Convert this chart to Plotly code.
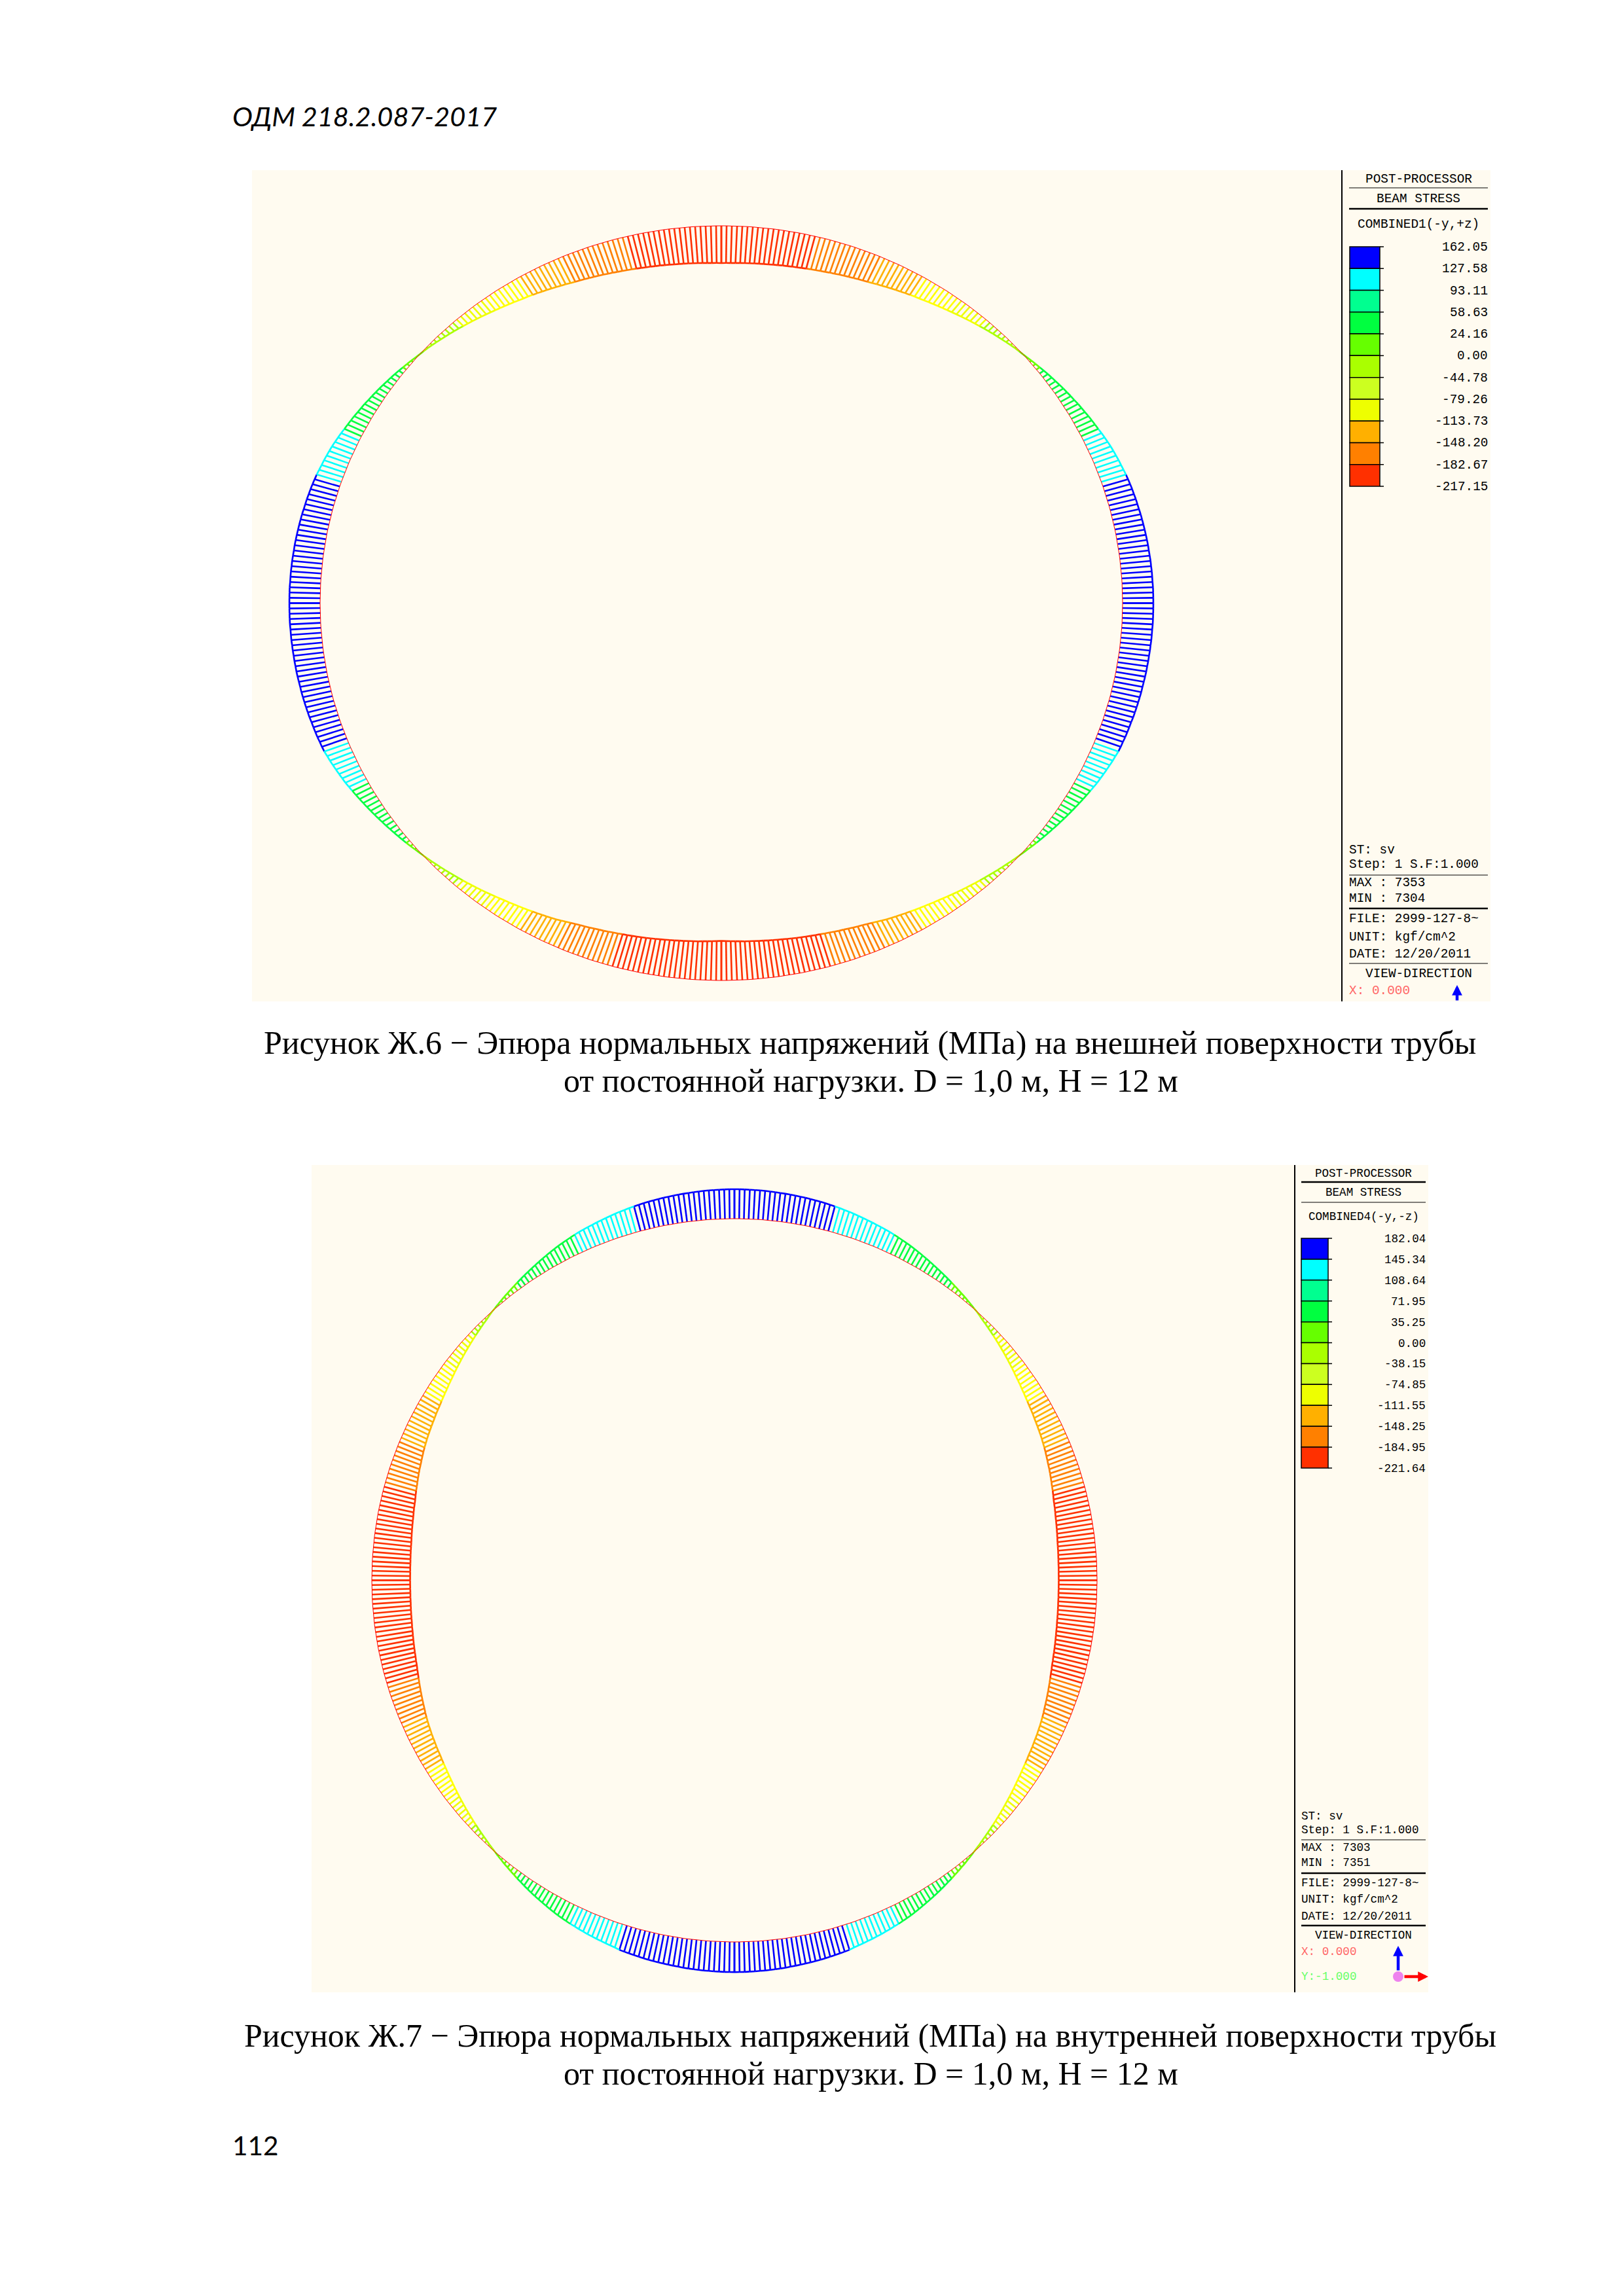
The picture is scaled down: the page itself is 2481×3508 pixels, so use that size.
import numpy as np
import plotly.graph_objects as go

W, H = 2481, 3508
PANEL_BG = "#FFFBF0"

# Stress, from the horizontal of the pipe (first value)
# to the top / bottom of the pipe (last value), evenly spaced along the quadrant.
stress_fig6_upper = [149,149,149,149,148,148,148,147,147,146,145,145,144,143,142,141,140,139,137,136,135,133,132,130,128,126,123,120,118,115,112,109,105,101,97,92,88,84,80,75,71,67,62,58,53,49,44,39,35,30,25,20,15,10,5,0,-4,-8,-13,-18,-23,-28,-33,-38,-43,-48,-53,-58,-63,-68,-73,-78,-83,-88,-92,-97,-101,-106,-110,-113,-117,-121,-125,-129,-133,-137,-141,-144,-148,-151,-154,-157,-160,-162,-165,-167,-170,-172,-175,-177,-179,-181,-183,-185,-187,-188,-190,-191,-193,-194,-196,-197,-198,-199,-200,-201,-202,-203,-204,-204,-205]
stress_fig6_lower = [149,149,149,149,149,148,148,148,147,147,146,146,145,145,144,143,142,142,141,140,139,138,137,135,134,133,132,130,129,127,123,120,116,112,108,104,100,95,90,85,80,75,70,65,60,55,50,45,40,35,30,25,20,15,9,4,-1,-6,-11,-16,-21,-26,-31,-36,-41,-46,-51,-56,-61,-66,-71,-76,-81,-86,-91,-95,-100,-104,-108,-112,-116,-120,-124,-128,-132,-136,-141,-146,-150,-154,-158,-161,-164,-167,-170,-172,-175,-178,-180,-183,-185,-187,-189,-191,-193,-195,-197,-199,-201,-203,-204,-206,-207,-209,-210,-211,-213,-214,-215,-216,-217]
stress_fig7_upper = [-221,-221,-221,-220,-220,-219,-218,-217,-216,-215,-213,-211,-209,-207,-205,-203,-200,-197,-195,-192,-188,-184,-181,-177,-173,-169,-165,-162,-158,-154,-150,-146,-143,-139,-136,-133,-130,-127,-124,-120,-117,-114,-110,-106,-102,-98,-93,-89,-84,-79,-74,-69,-64,-59,-54,-49,-44,-39,-34,-29,-24,-19,-14,-8,-2,3,8,13,18,23,28,33,38,43,48,53,58,63,68,73,78,83,88,93,97,101,105,109,113,116,119,122,125,128,131,134,137,140,142,145,147,149,151,153,155,156,158,159,161,162,163,164,165,166,167,168,168,169,169,170,170]
stress_fig7_lower = [-221,-221,-221,-221,-220,-220,-219,-218,-217,-216,-215,-213,-212,-210,-208,-206,-204,-202,-200,-197,-195,-191,-188,-184,-180,-176,-172,-168,-164,-160,-156,-151,-147,-143,-139,-136,-132,-129,-126,-122,-119,-116,-112,-108,-104,-100,-95,-91,-86,-81,-76,-71,-66,-61,-56,-51,-46,-41,-36,-31,-26,-21,-16,-10,-5,1,7,12,18,23,29,34,40,45,51,56,62,67,72,77,82,87,92,97,101,105,109,112,116,119,123,126,129,132,135,138,141,146,148,150,152,154,156,158,159,161,162,164,165,166,168,169,170,171,172,172,173,173,174,174,174]

legend_labels_fig6 = ["162.05","127.58","93.11","58.63","24.16","0.00","-44.78","-79.26","-113.73","-148.20","-182.67","-217.15"]
legend_labels_fig7 = ["182.04","145.34","108.64","71.95","35.25","0.00","-38.15","-74.85","-111.55","-148.25","-184.95","-221.64"]
swatch_colors = ["#0000FF","#00FFFF","#00FF90","#00FF40","#66FF00","#AAFF00","#CCFF20","#EEFF00","#FFB000","#FF8000","#FF3000"]
band_colors = ["#0000FF","#00FFFF","#00FF40","#00FF40","#66FF00","#AAFF00","#EEFF00","#FFFF00","#FFB000","#FF8000","#FF3000"]

caption_fig6 = ["Рисунок Ж.6 − Эпюра нормальных напряжений (МПа) на внешней поверхности трубы",
                "от постоянной нагрузки. D = 1,0 м, H = 12 м"]
caption_fig7 = ["Рисунок Ж.7 − Эпюра нормальных напряжений (МПа) на внутренней поверхности трубы",
                "от постоянной нагрузки. D = 1,0 м, H = 12 м"]

fig6 = dict(name="", panel=(385, 2277, 260, 1530), divider=2050, centre=(1102, 921.5), semi=(613, 576.5), k=(0.315, 0.278),
            upper=stress_fig6_upper, lower=stress_fig6_lower, labels=legend_labels_fig6,
            box=(2062, 2108, 2114, 377, 743), right=2275, left=2061, mid=2167, font=19.4,
            head=[("POST-PROCESSOR", 274), ("BEAM STRESS", 304), ("COMBINED1(-y,+z)", 343)],
            rules=[(287, 1), (319, 2.5), (1337, 1), (1388, 2.5), (1472, 1)],
            foot=[("ST: sv", 1299), ("Step: 1 S.F:1.000", 1321), ("MAX : 7353", 1349), ("MIN : 7304", 1373),
                  ("FILE: 2999-127-8~", 1404), ("UNIT: kgf/cm^2", 1432), ("DATE: 12/20/2011", 1458)],
            view=("VIEW-DIRECTION", 1488), coords=[("X: 0.000", 1514, "#FF6666")])
fig7 = dict(name="2", panel=(476, 2182, 1780, 3044), divider=1978, centre=(1122, 2414.5), semi=(554, 552.5), k=(0.265, 0.265),
            upper=stress_fig7_upper, lower=stress_fig7_lower, labels=legend_labels_fig7,
            box=(1988, 2029, 2035, 1892, 2243), right=2180, left=1988, mid=2083, font=17.6,
            head=[("POST-PROCESSOR", 1793), ("BEAM STRESS", 1822), ("COMBINED4(-y,-z)", 1859)],
            rules=[(1806, 2.5), (1837, 1), (2811, 1), (2862, 2.5), (2942, 2.5)],
            foot=[("ST: sv", 2775), ("Step: 1 S.F:1.000", 2796), ("MAX : 7303", 2823), ("MIN : 7351", 2846),
                  ("FILE: 2999-127-8~", 2877), ("UNIT: kgf/cm^2", 2902), ("DATE: 12/20/2011", 2928)],
            view=("VIEW-DIRECTION", 2957), coords=[("X: 0.000", 2982, "#FF6666"), ("Y:-1.000", 3020, "#66FF66")])

fx = lambda x: x / W
fy = lambda y: 1 - y / H

fig = go.Figure()
shapes, annos = [], []


def label(text, x, y, size, anchor="center", color="#000000", family="Liberation Mono", italic=False):
    annos.append(dict(text=text, x=fx(x), y=fy(y), xref="paper", yref="paper", showarrow=False,
                      xanchor=anchor, yanchor="middle", align=anchor,
                      font=dict(family=family, size=size, color=color, style="italic" if italic else "normal")))


def rule(x0, x1, y0, y1, width=1, color="#000000"):
    shapes.append(dict(type="line", xref="paper", yref="paper", x0=fx(x0), x1=fx(x1), y0=fy(y0), y1=fy(y1),
                       line=dict(color=color, width=width)))


def draw(spec):
    ax = spec["name"]
    xa, ya = "x" + ax, "y" + ax
    left, right, top, bottom = spec["panel"]
    cx, cy = spec["centre"]
    a, b = spec["semi"]
    kx, ky = spec["k"]
    fig.layout["xaxis" + ax] = dict(domain=[fx(left), fx(right)], range=[left - cx, right - cx], visible=False,
                                    fixedrange=True, anchor=ya)
    fig.layout["yaxis" + ax] = dict(domain=[fy(bottom), fy(top)], range=[cy - bottom, cy - top], visible=False,
                                    fixedrange=True, anchor=xa)

    edges = [float(v) for v in spec["labels"]]
    segs = {c: ([], []) for c in band_colors}
    ring_x, ring_y = [], []
    quadrants = [(spec["upper"], -1, 1), (spec["upper"], 1, 1), (spec["lower"], 1, -1), (spec["lower"], -1, -1)]
    for values, sx, sy in quadrants:
        s = np.array(values, float)
        t = np.radians(np.linspace(0, 90, len(s)))
        bx, by = sx * a * np.cos(t), sy * b * np.sin(t)
        ex = bx + sx * kx * s * np.cos(t)
        ey = by + sy * ky * s * np.sin(t)
        for i, v in enumerate(s):
            j = next((n for n in range(11) if v >= edges[n + 1]), 10)
            xs, ys = segs[band_colors[j]]
            xs += [bx[i], ex[i], None]
            ys += [by[i], ey[i], None]
            if i + 1 < len(s):
                xs += [ex[i], ex[i + 1], None]
                ys += [ey[i], ey[i + 1], None]
        ring_x += list(bx) + [None]
        ring_y += list(by) + [None]
    for color, (xs, ys) in segs.items():
        if xs:
            fig.add_trace(go.Scatter(x=xs, y=ys, mode="lines", xaxis=xa, yaxis=ya, hoverinfo="skip", showlegend=False,
                                     line=dict(color=color, width=2.6)))
    fig.add_trace(go.Scatter(x=ring_x, y=ring_y, mode="lines", xaxis=xa, yaxis=ya, hoverinfo="skip", showlegend=False,
                             line=dict(color="#FF0000", width=1.0)))

    # side panel
    rule(spec["divider"], spec["divider"], top, bottom, 2)
    for (text, y) in spec["head"]:
        label(text, spec["mid"], y, spec["font"])
    for y, w in spec["rules"]:
        rule(spec["left"], spec["right"] - 2, y, y, w)
    x0, x1, xt, y0, y1 = spec["box"]
    n = len(swatch_colors)
    step = (y1 - y0) / n
    for i, c in enumerate(swatch_colors):
        shapes.append(dict(type="rect", xref="paper", yref="paper", x0=fx(x0), x1=fx(x1),
                           y0=fy(y0 + i * step), y1=fy(y0 + (i + 1) * step), fillcolor=c,
                           line=dict(color="#000000", width=1.5)))
    for i, text in enumerate(spec["labels"]):
        y = y0 + i * step
        rule(x1, xt, y, y, 1.5)
        label(text, spec["right"], y + 1, spec["font"], anchor="right")
    for text, y in spec["foot"]:
        label(text, spec["left"] - 2, y, spec["font"], anchor="left")
    label(spec["view"][0], spec["mid"], spec["view"][1], spec["font"])
    for text, y, color in spec["coords"]:
        label(text, spec["left"] - 2, y, spec["font"], anchor="left", color=color)


def arrow(x0, y0, x1, y1, color):
    annos.append(dict(x=fx(x1), y=fy(y1), ax=x0 - x1, ay=y0 - y1, xref="paper", yref="paper", axref="pixel", ayref="pixel",
                      text="", showarrow=True, arrowhead=2, arrowsize=0.7, arrowwidth=4.5, arrowcolor=color))


draw(fig6)
draw(fig7)
arrow(2226, 1530, 2226, 1505, "#0000FF")
arrow(2136, 3012, 2136, 2973, "#0000FF")
arrow(2144, 3020, 2182, 3020, "#FF0000")
shapes.append(dict(type="circle", xref="paper", yref="paper", x0=fx(2128), x1=fx(2144), y0=fy(3012), y1=fy(3028),
                   fillcolor="#EE82EE", line=dict(width=0)))

TEXT = "Liberation Serif"
label("ОДМ 218.2.087-2017", 353, 177, 41.5, anchor="left", family="Lato, Noto Sans", italic=True)
label(caption_fig6[0], 1329, 1593, 50, family=TEXT)
label(caption_fig6[1], 1330, 1651, 50, family=TEXT)
label(caption_fig7[0], 1329, 3110, 50, family=TEXT)
label(caption_fig7[1], 1330, 3168, 50, family=TEXT)
label("112", 353, 3277, 40.5, anchor="left", family="Lato, Noto Sans")

fig.update_layout(width=W, height=H, autosize=False, margin=dict(l=0, r=0, t=0, b=0), paper_bgcolor="#FFFFFF",
                  plot_bgcolor=PANEL_BG, shapes=shapes, annotations=annos, showlegend=False)
fig.write_html("out.html", config=dict(displayModeBar=False, responsive=False),
               post_script="document.body.style.margin='0';document.documentElement.style.overflow='hidden';")
